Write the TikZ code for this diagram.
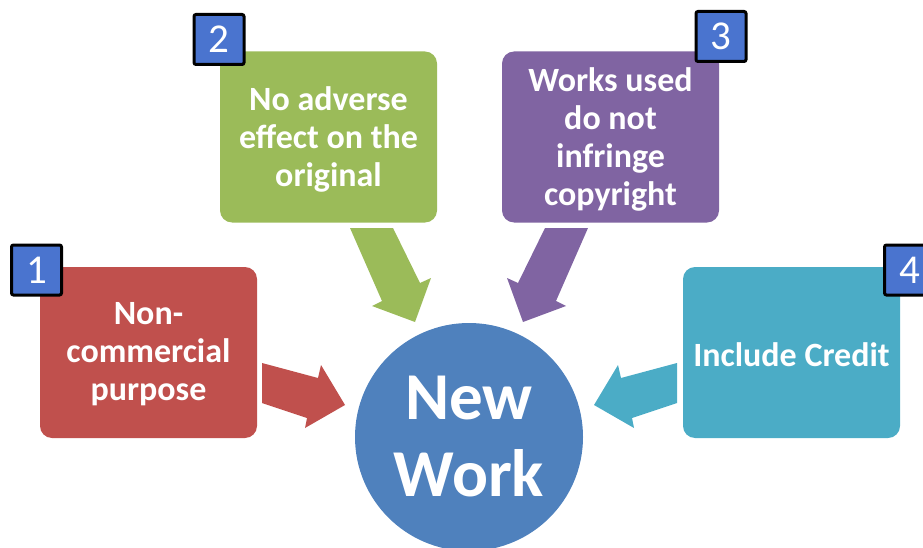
\documentclass[tikz,border=0pt]{standalone}
\usepackage{fontspec}
\setmainfont{Carlito}
\definecolor{cred}{HTML}{C0504D}
\definecolor{cgreen}{HTML}{9BBB59}
\definecolor{cpurple}{HTML}{8064A2}
\definecolor{cteal}{HTML}{4BACC6}
\definecolor{cblue}{HTML}{4F81BD}
\definecolor{numblue}{HTML}{4A74CF}
\begin{document}
\begin{tikzpicture}[x=1pt,y=-1pt,
  card/.style={rounded corners=12pt, minimum width=217pt, minimum height=171pt, inner sep=0pt},
  txt/.style={align=center, text=white, yshift=-2pt, font=\fontsize{34}{38}\selectfont\bfseries},
  numbox/.style={draw=black, line width=3pt, fill=numblue, rounded corners=2pt, minimum size=50pt, inner sep=0pt, text=white, font=\fontsize{41}{41}\selectfont}]
\useasboundingbox (0,0) rectangle (923,548);
\clip (0,0) rectangle (923,548);
% cards
\node[card, fill=cred] (b1) at (148.5,352.5) {};
\node[card, fill=cgreen] (b2) at (328.5,137) {};
\node[card, fill=cpurple] (b3) at (610.5,137) {};
\node[card, fill=cteal] (b4) at (791.5,352.5) {};
\node[txt] (t1) at (b1.center) {Non-\\commercial\\purpose};
\node[txt] (t2) at (b2.center) {No adverse\\effect on the\\original};
\node[txt] (t3) at (b3.center) {Works used\\do not\\infringe\\copyright};
\node[txt] (t4) at (b4.center) {Include Credit};
% circle
\node[circle, fill=cblue, minimum size=228pt, inner sep=0pt, align=center, text=white,
  font=\fontsize{67}{77}\selectfont\bfseries] (nw) at (469,437) {New\\Work};
% arrows
\fill[cred] (262,363) -- (318,378) -- (321,365) -- (345,405) -- (305,428) -- (307,418) -- (262,403) -- cycle;
\fill[cgreen] (350,228) -- (393,228) -- (420,283) -- (431,278) -- (415,322) -- (372,306) -- (382,301) -- cycle;
\fill[cpurple] (588,228) -- (545,228) -- (518,283) -- (507,278) -- (523,322) -- (566,306) -- (556,301) -- cycle;
\fill[cteal] (677,363) -- (621,378) -- (618,365) -- (594,405) -- (634,428) -- (632,418) -- (677,403) -- cycle;
% number boxes
\node[numbox] (n1) at (36.5,270) {1};
\node[numbox] (n2) at (219,39.5) {2};
\node[numbox] (n3) at (721,36.5) {3};
\node[numbox] (n4) at (909.5,270) {4};
\end{tikzpicture}
\end{document}
